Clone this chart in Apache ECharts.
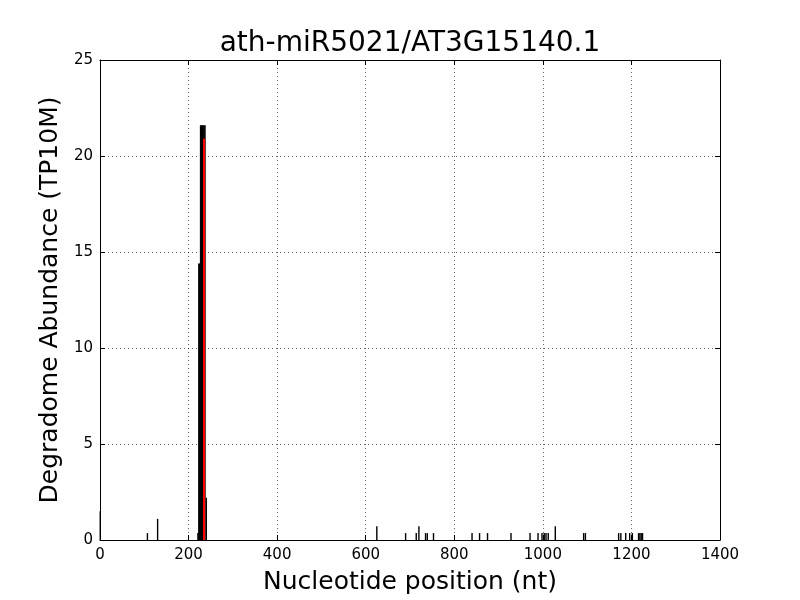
<!DOCTYPE html>
<html>
<head>
<meta charset="utf-8">
<script src="https://cdn.jsdelivr.net/npm/echarts@6/dist/echarts.min.js"></script>
<style>
  html, body { margin: 0; padding: 0; background: #fff; }
  #chart { width: 800px; height: 600px; }
</style>
</head>
<body>
<div id="chart"></div>
<script>
const titleText = 'ath-miR5021/AT3G15140.1'

// read positions (nt) and abundance (TP10M)
const positions = [0, 108, 131, 222, 224, 226, 228, 230, 232, 234, 236, 238, 241,
  626, 691, 715, 721, 736, 740, 754, 841, 858, 876, 929, 972, 990, 999, 1004, 1008,
  1013, 1029, 1093, 1097, 1172, 1177, 1188, 1197, 1203, 1217, 1220, 1223, 1226]
const abundance = [1.5, 0.36, 1.1, 0.36, 14.4, 14.4, 21.6, 21.6, 21.6, 21.6, 21.6, 21.6, 2.2,
  0.72, 0.36, 0.36, 0.72, 0.36, 0.36, 0.36, 0.36, 0.36, 0.36, 0.36, 0.36, 0.36, 0.36, 0.36, 0.36,
  0.36, 0.72, 0.36, 0.36, 0.36, 0.36, 0.36, 0.36, 0.36, 0.36, 0.36, 0.36, 0.36]

// predicted cleavage site
const sitePosition = [235]
const siteAbundance = [20.9]

const xTicks = { min: 0, max: 1400, interval: 200 }
const yTicks = { min: 0, max: 25, interval: 5 }

const font = 'DejaVu Sans, sans-serif'

const chart = echarts.init(document.getElementById('chart'), null, { renderer: 'canvas' })

const tick = { show: true, inside: true, length: 5, lineStyle: { color: '#000', width: 1 } }
const line = { show: true, onZero: false, lineStyle: { color: '#000', width: 1 } }
const grid = { show: true, lineStyle: { color: '#000', width: 0.6, type: [1, 3] } }
const plain = v => String(v)

chart.setOption({
  animation: false,
  title: {
    text: titleText,
    left: 405,
    textAlign: 'center',
    top: 25,
    textStyle: { fontFamily: font, fontSize: 28, fontWeight: 'normal', color: '#000' },
  },
  grid: { left: 100, right: 80, top: 60, bottom: 60, containLabel: false, outerBoundsMode: 'none' },
  xAxis: [{
    type: 'value',
    ...xTicks,
    name: 'Nucleotide position (nt)',
    nameLocation: 'middle',
    nameGap: 30,
    nameTextStyle: { fontFamily: font, fontSize: 25, color: '#000' },
    axisLine: line,
    axisTick: tick,
    axisLabel: { fontFamily: font, fontSize: 15, color: '#000', margin: 8, formatter: plain },
    splitLine: grid,
  }, {
    type: 'value',
    position: 'top',
    ...xTicks,
    axisLine: line,
    axisTick: tick,
    axisLabel: { show: false },
    splitLine: { show: false },
  }],
  yAxis: [{
    type: 'value',
    ...yTicks,
    name: 'Degradome Abundance (TP10M)',
    nameLocation: 'middle',
    nameGap: 34,
    nameTextStyle: { fontFamily: font, fontSize: 25, color: '#000' },
    axisLine: line,
    axisTick: tick,
    axisLabel: { fontFamily: font, fontSize: 15, color: '#000', margin: 7, formatter: plain },
    splitLine: grid,
  }, {
    type: 'value',
    position: 'right',
    ...yTicks,
    axisLine: line,
    axisTick: tick,
    axisLabel: { show: false },
    splitLine: { show: false },
  }],
  series: [{
    type: 'bar',
    data: positions.map((p, i) => [p, abundance[i]]),
    barWidth: 1.4,
    barGap: '-100%',
    itemStyle: { color: '#000' },
    z: 3,
  }, {
    type: 'bar',
    data: sitePosition.map((p, i) => [p, siteAbundance[i]]),
    barWidth: 2.2,
    barGap: '-100%',
    itemStyle: { color: '#ff0000' },
    z: 4,
  }],
})
</script>
</body>
</html>
